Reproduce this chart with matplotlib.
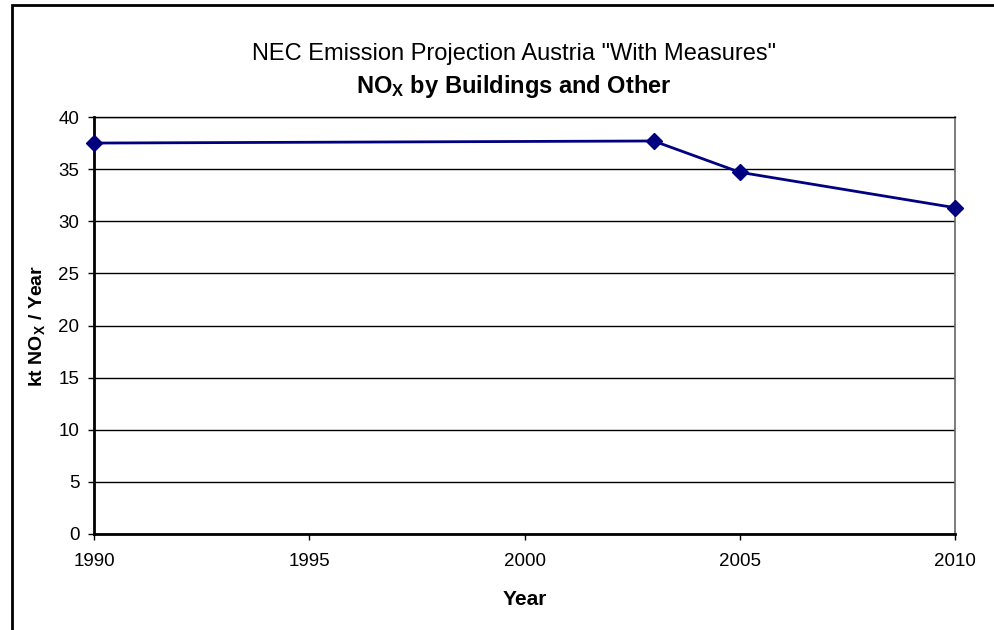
import matplotlib
matplotlib.use("Agg")
import matplotlib.pyplot as plt
from matplotlib.patches import Rectangle

# NOx emissions, Buildings and Other (kt per year)
years = [1990, 2003, 2005, 2010]
nox_kt = [37.5, 37.7, 34.7, 31.3]

x_ticks = [1990, 1995, 2000, 2005, 2010]
y_ticks = [0, 5, 10, 15, 20, 25, 30, 35, 40]

plt.rcParams["font.family"] = ["Liberation Sans", "DejaVu Sans"]
plt.rcParams["mathtext.fontset"] = "custom"
plt.rcParams["mathtext.rm"] = "Liberation Sans"
plt.rcParams["mathtext.bf"] = "Liberation Sans:bold"
plt.rcParams["mathtext.it"] = "Liberation Sans:italic"

W, H = 994, 630
fig = plt.figure(figsize=(W / 100, H / 100), dpi=100)

# outer chart frame
fig.patches.append(Rectangle((12 / W, -0.05), 1.2, (H - 5) / H + 0.05,
                             transform=fig.transFigure, fill=False,
                             edgecolor="black", linewidth=2, zorder=0))

left, right, top, bottom = 94, 955, 117, 534
ax = fig.add_axes([left / W, 1 - bottom / H, (right - left) / W, (bottom - top) / H])

ax.set_xlim(1990, 2010)
ax.set_ylim(0, 40)
ax.set_xticks(x_ticks)
ax.set_yticks(y_ticks)
ax.set_xticklabels([str(t) for t in x_ticks])
ax.set_yticklabels([str(t) for t in y_ticks])

ax.yaxis.grid(True, color="black", linewidth=1)
ax.set_axisbelow(True)

for side in ("left", "bottom"):
    ax.spines[side].set_color("black")
    ax.spines[side].set_linewidth(2)
ax.spines["top"].set_color("black")
ax.spines["top"].set_linewidth(1)
ax.spines["right"].set_color("#666666")
ax.spines["right"].set_linewidth(1.2)

ax.tick_params(axis="both", direction="out", length=4.5, width=1, color="black",
               labelsize=13.5)
ax.tick_params(axis="x", pad=9.5)
ax.tick_params(axis="y", pad=6)

ax.plot(years, nox_kt, color="#000080", linewidth=2, marker="D",
        markersize=8, markerfacecolor="#000080", markeredgecolor="#000080",
        clip_on=False, zorder=5)

ax.set_xlabel("Year", fontsize=15, fontweight="bold", labelpad=14)
ax.set_ylabel(r"kt $\mathbf{NO_X}$ / Year", fontsize=14, fontweight="bold", labelpad=8)

cx = 514 / W
fig.text(cx, 1 - 60 / H, 'NEC Emission Projection Austria "With Measures"',
         ha="center", va="baseline", fontsize=17)
fig.text(cx, 1 - 93 / H, r"$\mathbf{NO_X}$ by Buildings and Other",
         ha="center", va="baseline", fontsize=17, fontweight="bold")

fig.savefig("out.png", dpi=100)
